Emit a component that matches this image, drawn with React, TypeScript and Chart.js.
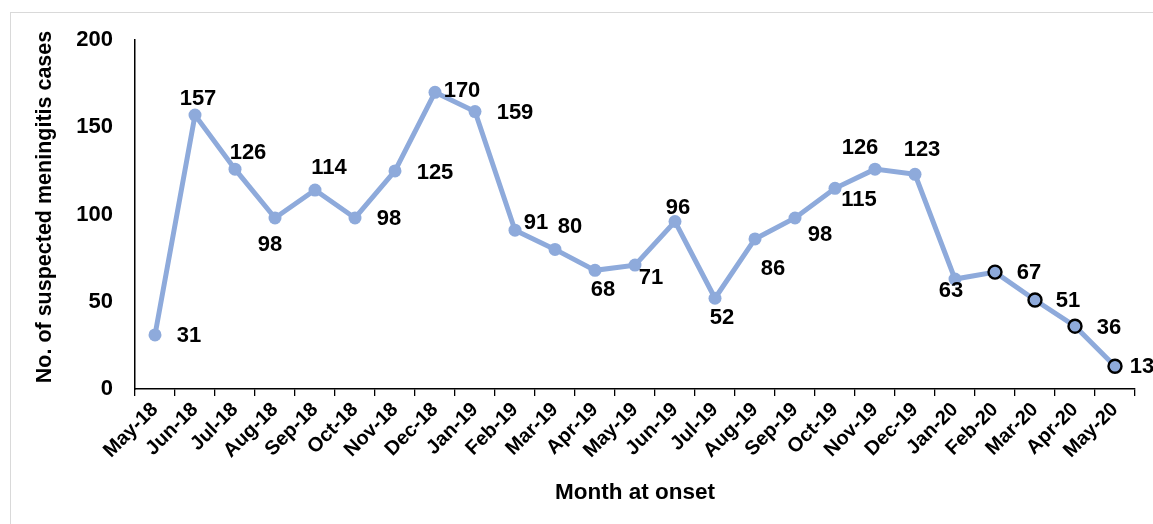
import React, { useEffect, useRef } from "react";
import { Chart, registerables } from "chart.js";

Chart.register(...registerables);

const months = [
  "May-18", "Jun-18", "Jul-18", "Aug-18", "Sep-18", "Oct-18", "Nov-18", "Dec-18",
  "Jan-19", "Feb-19", "Mar-19", "Apr-19", "May-19", "Jun-19", "Jul-19", "Aug-19",
  "Sep-19", "Oct-19", "Nov-19", "Dec-19", "Jan-20", "Feb-20", "Mar-20", "Apr-20", "May-20",
];

const cases = [31, 157, 126, 98, 114, 98, 125, 170, 159, 91, 80, 68, 71, 96, 52, 86, 98, 115, 126, 123, 63, 67, 51, 36, 13];

// months whose point is outlined (provisional data)
const outlinedMonths = ["Feb-20", "Mar-20", "Apr-20", "May-20"];

const yTicks = [0, 50, 100, 150, 200];

const xTitle = "Month at onset";
const yTitle = "No. of suspected meningitis cases";

// label placement offsets (dx, dy) relative to each point — styling only
const labelOffsets: [number, number][] = [
  [34, 1], [3, -16], [13, -16], [-5, 27], [14, -22], [34, 1], [40, 2], [27, -1],
  [40, 1], [21, -7], [15, -22], [8, 20], [16, 13], [3, -14], [7, 20], [18, 30],
  [25, 17], [24, 12], [-15, -21], [7, -24], [-4, 12], [34, 1], [33, 1], [34, 2], [27, 1],
];

const FONT = "'Liberation Sans', Arial, Helvetica, sans-serif";
const LINE = "#8eaadb";

const labelPlugin = {
  id: "pointLabels",
  afterDatasetsDraw(chart: any) {
    const ctx = chart.ctx;
    const meta = chart.getDatasetMeta(0);
    ctx.save();
    ctx.font = `bold 22px ${FONT}`;
    ctx.fillStyle = "#000";
    ctx.textAlign = "center";
    ctx.textBaseline = "middle";
    meta.data.forEach((pt: any, i: number) => {
      const [dx, dy] = labelOffsets[i] || [0, -15];
      ctx.fillText(String(cases[i]), pt.x + dx, pt.y + dy);
    });
    // y axis title
    ctx.translate(45, 207);
    ctx.rotate(-Math.PI / 2);
    ctx.font = `bold 21.5px ${FONT}`;
    ctx.fillText(yTitle, 0, 0);
    ctx.restore();
  },
};

export default function App() {
  const ref = useRef<HTMLCanvasElement | null>(null);

  useEffect(() => {
    if (!ref.current) return;
    const outlined = months.map((m) => outlinedMonths.includes(m));
    const chart = new Chart(ref.current, {
      type: "line",
      data: {
        labels: months,
        datasets: [
          {
            data: cases,
            borderColor: LINE,
            backgroundColor: LINE,
            borderWidth: 5,
            pointRadius: 6.5,
            pointHoverRadius: 6.5,
            pointBackgroundColor: LINE,
            pointBorderColor: outlined.map((o) => (o ? "#000" : LINE)),
            pointBorderWidth: outlined.map((o) => (o ? 2.4 : 0)),
            tension: 0,
          },
        ],
      },
      options: {
        responsive: false,
        animation: false,
        events: [],
        layout: { padding: { left: 28, right: 18, top: 40, bottom: 14 } },
        plugins: {
          legend: { display: false },
          tooltip: { enabled: false },
        },
        scales: {
          x: {
            type: "category",
            offset: true,
            grid: {
              display: true,
              drawOnChartArea: false,
              drawTicks: true,
              tickLength: 7,
              color: "#000",
              lineWidth: 1.3,
              offset: true,
            },
            border: { display: true, color: "#000", width: 1.5 },
            ticks: {
              color: "#000",
              font: { family: FONT, size: 20, weight: "bold" },
              minRotation: 45,
              maxRotation: 45,
              autoSkip: false,
              padding: 2,
            },
            title: {
              display: true,
              text: xTitle,
              color: "#000",
              font: { family: FONT, size: 22.5, weight: "bold" },
              padding: { top: 4, bottom: 4 },
            },
            afterFit: (scale: any) => {
              scale.height = 121;
            },
          },
          y: {
            min: 0,
            max: 200,
            afterBuildTicks: (scale: any) => {
              scale.ticks = yTicks.map((v) => ({ value: v }));
            },
            grid: { display: false, drawTicks: false },
            border: { display: true, color: "#000", width: 1.5 },
            ticks: {
              color: "#000",
              font: { family: FONT, size: 22, weight: "bold" },
              padding: 22,
            },
            title: { display: false },
            afterFit: (scale: any) => {
              scale.width = 107;
            },
          },
        },
      },
      plugins: [labelPlugin],
    });
    return () => chart.destroy();
  }, []);

  return (
    <div style={{ position: "absolute", left: 0, top: 0, width: 1153, height: 524, background: "#fff", overflow: "hidden" }}>
      <div
        style={{
          position: "absolute",
          left: 10,
          top: 12,
          width: 1200,
          height: 600,
          border: "1px solid #d9d9d9",
          boxSizing: "border-box",
        }}
      />
      <canvas ref={ref} width={1153} height={524} style={{ position: "absolute", left: 0, top: 0, width: 1153, height: 524 }} />
    </div>
  );
}
